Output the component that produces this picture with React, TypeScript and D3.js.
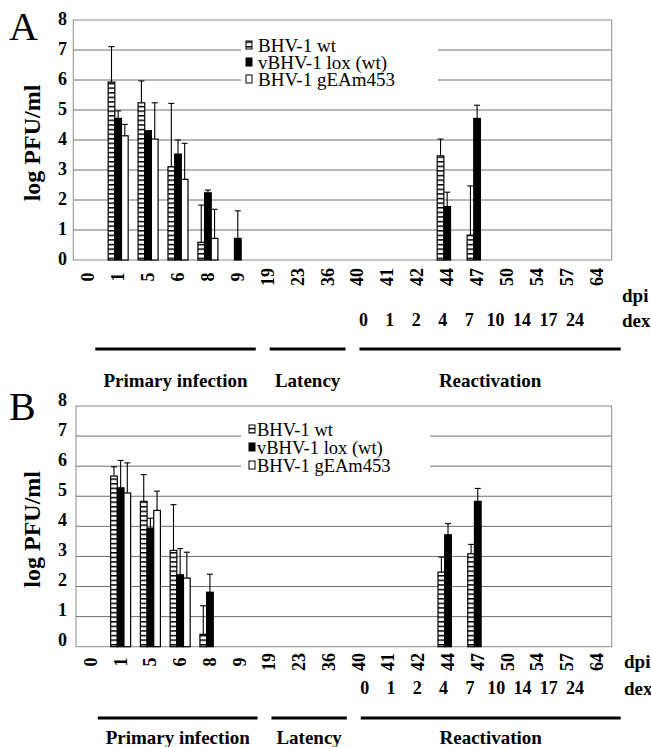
import React from 'react';
import * as d3 from 'd3';

const dpiLabels = ['0', '1', '5', '6', '8', '9', '19', '23', '36', '40', '41', '42', '44', '47', '50', '54', '57', '64'];
const dexLabels = ['0', '1', '2', '4', '7', '10', '14', '17', '24'];
const dexFirstDpi = '40';
const seriesNames = ['BHV-1 wt', 'vBHV-1 lox (wt)', 'BHV-1 gEAm453'];
const groupNames = ['Primary infection', 'Latency', 'Reactivation'];
const groupFirst = ['0', '19', '40'];
const groupLast = ['9', '36', '64'];
const yTicks = [0, 1, 2, 3, 4, 5, 6, 7, 8];

// Panel A (mean log PFU/ml and upper SD per dpi)
const wtA = [0, 5.93, 5.24, 3.11, 0.59, 0, 0, 0, 0, 0, 0, 0, 3.47, 0.83, 0, 0, 0, 0];
const wtAErr = [0, 1.18, 0.73, 2.11, 1.24, 0, 0, 0, 0, 0, 0, 0, 0.56, 1.64, 0, 0, 0, 0];
const loxA = [0, 4.72, 4.31, 3.53, 2.24, 0.72, 0, 0, 0, 0, 0, 0, 1.78, 4.72, 0, 0, 0, 0];
const loxAErr = [0, 0.25, 0, 0.47, 0.09, 0.92, 0, 0, 0, 0, 0, 0, 0.48, 0.44, 0, 0, 0, 0];
const gEAA = [0, 4.14, 4.03, 2.69, 0.72, 0, 0, 0, 0, 0, 0, 0, 0, 0, 0, 0, 0, 0];
const gEAAErr = [0, 0.38, 1.21, 1.2, 0.97, 0, 0, 0, 0, 0, 0, 0, 0, 0, 0, 0, 0, 0];

// Panel B
const wtB = [0, 5.67, 4.83, 3.2, 0.41, 0, 0, 0, 0, 0, 0, 0, 2.48, 3.09, 0, 0, 0, 0];
const wtBErr = [0, 0.31, 0.89, 1.52, 0.95, 0, 0, 0, 0, 0, 0, 0, 0.5, 0.31, 0, 0, 0, 0];
const loxB = [0, 5.28, 3.94, 2.39, 1.81, 0, 0, 0, 0, 0, 0, 0, 3.72, 4.83, 0, 0, 0, 0];
const loxBErr = [0, 0.91, 0.33, 0.87, 0.6, 0, 0, 0, 0, 0, 0, 0, 0.37, 0.43, 0, 0, 0, 0];
const gEAB = [0, 5.11, 4.53, 2.28, 0, 0, 0, 0, 0, 0, 0, 0, 0, 0, 0, 0, 0, 0];
const gEABErr = [0, 1.0, 0.64, 0.86, 0, 0, 0, 0, 0, 0, 0, 0, 0, 0, 0, 0, 0, 0];

const SERIF = 'Liberation Serif';

type PanelProps = {
  id: string;
  letter: string;
  left: number;
  right: number;
  top: number;
  bottom: number;
  tickShift: number;
  rows: { tick: number; dpi: number; dex: number; line: number; text: number; dx: number };
  values: number[][];
  errs: number[][];
  legend: { mx: number; tx: number; base: number; step: number; size: number; box: [number, number, number, number] };
  letterBase: number;
};

function Panel(p: PanelProps) {
  const x = d3.scaleBand<string>().domain(dpiLabels).range([p.left, p.right]).padding(0);
  const bw = x.bandwidth();
  const cx = (c: string) => (x(c) as number) + bw / 2;
  const y = d3.scaleLinear().domain([0, 8]).range([p.bottom, p.top]);
  const inner = d3.scaleBand<string>().domain(seriesNames).range([-10, 10]).padding(0);
  const ib = inner.bandwidth();
  const fills = [`url(#stripe${p.id})`, '#000', '#fff'];
  const lastDpi = dpiLabels[dpiLabels.length - 1];
  const dexScale = d3
    .scaleLinear()
    .domain([cx(dexFirstDpi), cx(lastDpi)])
    .range([cx(dexFirstDpi) + 0.2 * bw, cx(lastDpi) - 0.73 * bw]);
  const firstIdx = dpiLabels.indexOf(dexFirstDpi);
  const lg = p.legend;
  const r = p.rows;

  return (
    <g fontFamily={SERIF}>
      <defs>
        <pattern id={`stripe${p.id}`} patternUnits="userSpaceOnUse" width={10} height={4.6}>
          <rect width={10} height={4.6} fill="#fff" />
          <rect width={10} height={1.5} fill="#000" />
        </pattern>
      </defs>
      {/* panel letter */}
      <text x={9} y={p.letterBase} fontSize={40} fontFamily={SERIF}>
        {p.letter}
      </text>
      {/* y title */}
      <text
        transform={`translate(40,${(p.top + p.bottom) / 2 + 3}) rotate(-90)`}
        textAnchor="middle"
        fontSize={24}
        fontWeight="bold"
        fontFamily={SERIF}
      >
        log PFU/ml
      </text>
      {/* gridlines */}
      {yTicks.slice(1, -1).map((t) => (
        <line key={t} x1={p.left} x2={p.right} y1={y(t)} y2={y(t)} stroke="#6e6e6e" strokeWidth={1} />
      ))}
      <rect x={p.left} y={p.top} width={p.right - p.left} height={p.bottom - p.top} fill="none" stroke="#8a8a8a" strokeWidth={1} />
      {/* y tick labels */}
      {yTicks.map((t) => (
        <text
          key={t}
          x={67}
          y={y(t) + p.tickShift}
          textAnchor="end"
          dominantBaseline="central"
          fontSize={18}
          fontWeight="bold"
          fontFamily={SERIF}
        >
          {t}
        </text>
      ))}
      {/* legend background */}
      <rect x={lg.box[0]} y={lg.box[1]} width={lg.box[2] - lg.box[0]} height={lg.box[3] - lg.box[1]} fill="#fff" />
      {/* bars */}
      {p.values.map((vals, s) =>
        vals.map((v, i) =>
          v > 0 ? (
            <rect
              key={`${s}-${i}`}
              x={cx(dpiLabels[i]) + (inner(seriesNames[s]) as number)}
              y={y(v)}
              width={ib}
              height={y(0) - y(v)}
              fill={fills[s]}
              stroke="#000"
              strokeWidth={1.2}
            />
          ) : null
        )
      )}
      {/* error bars */}
      {p.errs.map((es, s) =>
        es.map((e, i) => {
          const v = p.values[s][i];
          if (!(e > 0)) return null;
          const bx = cx(dpiLabels[i]) + (inner(seriesNames[s]) as number) + ib / 2;
          return (
            <g key={`e${s}-${i}`} stroke="#000" strokeWidth={1.1}>
              <line x1={bx} x2={bx} y1={y(v)} y2={y(v + e)} />
              <line x1={bx - 3} x2={bx + 3} y1={y(v + e)} y2={y(v + e)} />
            </g>
          );
        })
      )}
      {/* legend */}
      {seriesNames.map((n, s) => (
        <g key={n}>
          <rect
            x={lg.mx}
            y={lg.base + s * lg.step - 11}
            width={6}
            height={8}
            fill={fills[s]}
            stroke="#000"
            strokeWidth={1}
          />
          <text x={lg.tx} y={lg.base + s * lg.step} fontSize={lg.size} fontFamily={SERIF}>
            {n}
          </text>
        </g>
      ))}
      {/* x tick labels */}
      {dpiLabels.map((c) => (
        <text
          key={c}
          transform={`translate(${cx(c)},${r.tick}) rotate(-90)`}
          textAnchor="middle"
          dominantBaseline="central"
          fontSize={18}
          fontWeight="bold"
          fontFamily={SERIF}
        >
          {c}
        </text>
      ))}
      <text x={622 + r.dx} y={r.dpi} fontSize={19} fontWeight="bold" fontFamily={SERIF}>
        dpi
      </text>
      {dexLabels.map((d, i) => (
        <text
          key={d}
          x={dexScale(cx(dpiLabels[firstIdx + i]))}
          y={r.dex}
          textAnchor="middle"
          fontSize={18}
          fontWeight="bold"
          fontFamily={SERIF}
        >
          {d}
        </text>
      ))}
      <text x={622 + r.dx} y={r.dex + 1} fontSize={19} fontWeight="bold" fontFamily={SERIF}>
        dex
      </text>
      {groupNames.map((g, k) => {
        const x0 = cx(groupFirst[k]) + 2 + (k === 0 ? 5 : 0);
        const x1 = cx(groupLast[k]) + 0.6 * bw + (k === 2 ? 6 : 0);
        return (
          <g key={g}>
            <line x1={x0} x2={x1} y1={r.line} y2={r.line} stroke="#000" strokeWidth={3} />
            <text
              x={(x0 + x1) / 2}
              y={r.text}
              textAnchor="middle"
              fontSize={19}
              fontWeight="bold"
              fontFamily={SERIF}
            >
              {g}
            </text>
          </g>
        );
      })}
    </g>
  );
}

export default function App() {
  return (
    <svg
      width={651}
      height={747}
      viewBox="0 0 651 747"
      fontFamily={SERIF}
      style={{ position: 'absolute', left: 0, top: 0, background: '#fff' }}
    >
      <rect width={651} height={747} fill="#fff" />
      <Panel
        id="A"
        letter="A"
        letterBase={40}
        left={73.3}
        right={611.7}
        top={20}
        bottom={260}
        tickShift={-1.5}
        rows={{ tick: 277, dpi: 302, dex: 326, line: 349, text: 387, dx: 0 }}
        values={[wtA, loxA, gEAA]}
        errs={[wtAErr, loxAErr, gEAAErr]}
        legend={{ mx: 246, tx: 258, base: 52, step: 17, size: 19, box: [241, 36, 438, 92] }}
      />
      <Panel
        id="B"
        letter="B"
        letterBase={420}
        left={76}
        right={611.7}
        top={406}
        bottom={646.7}
        tickShift={-6.5}
        rows={{ tick: 662, dpi: 668, dex: 694, line: 718, text: 744, dx: 2 }}
        values={[wtB, loxB, gEAB]}
        errs={[wtBErr, loxBErr, gEABErr]}
        legend={{ mx: 249, tx: 257, base: 436, step: 18, size: 18.5, box: [241, 420, 430, 479] }}
      />
    </svg>
  );
}
